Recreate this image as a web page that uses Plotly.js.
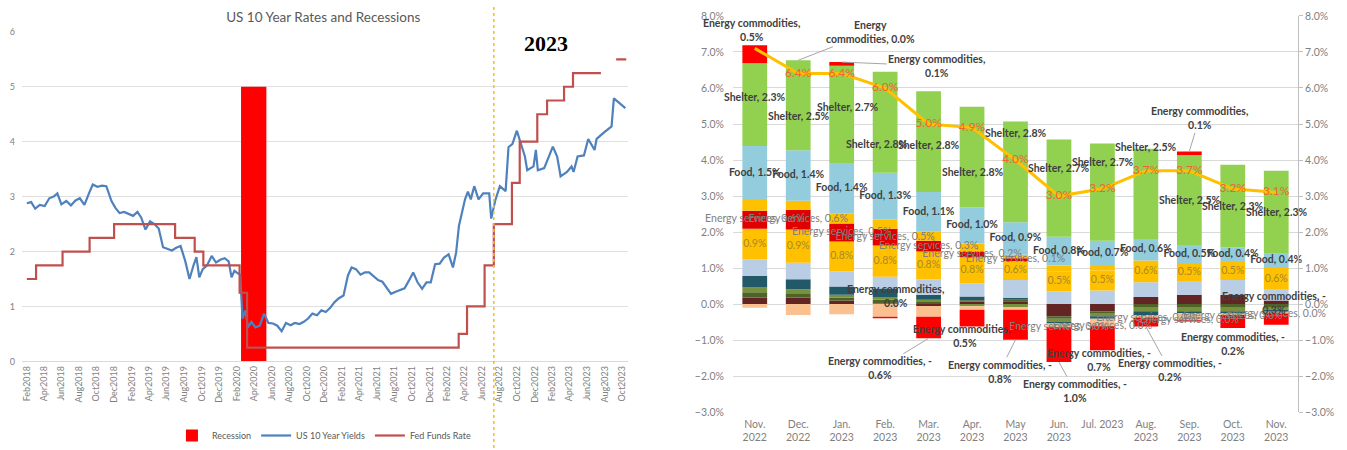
<!DOCTYPE html>
<html><head><meta charset="utf-8">
<script src="https://cdn.plot.ly/plotly-3.0.1.min.js"></script>
<style>html,body{margin:0;padding:0;background:#fff}#chart{width:1347px;height:450px}</style>
</head><body><div id="chart"></div>
<script>
// ---------- Left chart data ----------
const recessionX = ['2020-03-30'];
const recessionY = [5];
const recessionDays = 88;

const fedDates = ['2018-02-01','2018-03-05','2018-06-05','2018-09-07','2018-12-01','2019-07-01','2019-09-07','2019-10-07','2020-02-10','2020-03-07','2022-03-12','2022-04-10','2022-06-10','2022-07-12','2022-09-13','2022-10-10','2022-12-10','2023-01-13','2023-03-13','2023-04-13','2023-07-19','2023-08-15','2023-09-10','2023-10-15'];
const fedRate  = [1.5,1.75,2.0,2.25,2.5,2.25,2.0,1.75,1.25,0.25,0.5,1.0,1.75,2.5,3.25,4.0,4.5,4.75,5.0,5.25,5.25,null,5.5,5.5];

const yieldDates = ['2018-02-01','2018-02-16','2018-03-02','2018-03-18','2018-04-04','2018-04-20','2018-05-05','2018-05-18','2018-06-01','2018-06-18','2018-07-04','2018-07-20','2018-08-04','2018-08-20','2018-09-04','2018-09-18','2018-10-04','2018-10-20','2018-11-04','2018-11-22','2018-12-05','2018-12-20',
'2019-01-05','2019-01-20','2019-02-05','2019-02-20','2019-03-05','2019-03-20','2019-04-05','2019-04-20','2019-05-05','2019-05-20','2019-06-05','2019-06-20','2019-07-05','2019-07-20','2019-08-05','2019-08-20','2019-09-03','2019-09-13','2019-09-23','2019-10-05','2019-10-20','2019-11-05','2019-11-20','2019-12-05','2019-12-20',
'2020-01-03','2020-01-13','2020-01-23','2020-02-05','2020-02-12','2020-02-20','2020-03-01','2020-03-10','2020-03-22','2020-04-05','2020-04-20','2020-05-05','2020-05-20','2020-06-05','2020-06-20','2020-07-05','2020-07-20','2020-08-05','2020-08-20','2020-09-05','2020-09-20','2020-10-05','2020-10-20','2020-11-05','2020-11-20','2020-12-05','2020-12-20',
'2021-01-05','2021-01-20','2021-02-05','2021-02-20','2021-03-05','2021-03-20','2021-04-05','2021-04-20','2021-05-05','2021-05-20','2021-06-05','2021-06-20','2021-07-05','2021-07-20','2021-08-05','2021-08-20','2021-09-05','2021-09-20','2021-10-05','2021-10-20','2021-11-05','2021-11-20','2021-12-05','2021-12-20',
'2022-01-05','2022-01-20','2022-02-05','2022-02-20','2022-03-03','2022-03-13','2022-03-23','2022-04-03','2022-04-13','2022-04-23','2022-05-05','2022-05-20','2022-06-05','2022-06-26','2022-07-03','2022-07-17','2022-08-02','2022-08-22','2022-09-01','2022-09-15','2022-09-30','2022-10-14','2022-10-28','2022-11-05','2022-11-27','2022-12-05','2022-12-12',
'2023-01-03','2023-02-02','2023-02-17','2023-03-01','2023-03-23','2023-04-08','2023-04-15','2023-04-29','2023-05-21','2023-06-05','2023-06-27','2023-07-04','2023-07-26','2023-08-10','2023-08-25','2023-09-02','2023-10-12'];
const yieldValues = [2.88,2.90,2.78,2.85,2.83,2.97,3.00,3.06,2.86,2.92,2.84,2.93,2.97,2.85,3.05,3.22,3.18,3.20,3.19,2.92,2.80,2.70,
2.72,2.68,2.65,2.72,2.62,2.40,2.55,2.50,2.42,2.08,2.05,2.02,2.07,2.10,1.83,1.50,1.75,1.90,1.53,1.68,1.75,1.92,1.80,1.85,1.88,
1.82,1.53,1.65,1.60,1.58,0.78,0.93,0.62,0.72,0.62,0.65,0.87,0.70,0.69,0.65,0.55,0.70,0.66,0.70,0.68,0.72,0.78,0.87,0.84,0.93,0.90,0.97,
1.08,1.15,1.20,1.56,1.71,1.68,1.58,1.62,1.62,1.55,1.48,1.45,1.35,1.23,1.27,1.30,1.33,1.47,1.62,1.44,1.32,1.44,1.44,1.77,
1.78,1.89,1.95,1.71,1.98,2.47,2.70,2.95,3.09,2.95,3.19,2.95,3.06,3.06,2.60,2.93,3.19,3.10,3.90,3.96,4.20,3.97,3.73,3.48,3.55,3.85,3.48,
3.52,3.91,3.73,3.37,3.45,3.55,3.45,3.73,3.75,4.05,3.85,4.05,4.15,4.22,4.28,4.79,4.61];

// ---------- Right chart data ----------
const months = ['Nov.<br>2022','Dec.<br>2022','Jan.<br>2023','Feb.<br>2023','Mar.<br>2023','Apr.<br>2023','May<br>2023','Jun.<br>2023','Jul. 2023','Aug.<br>2023','Sep.<br>2023','Oct.<br>2023','Nov.<br>2023'];
const apparel        = [0.18,0.18,0.10,0.02,-0.05,0.07,0.08,-0.34,-0.20,0.20,0.26,0.25,0.10];
const medCommodities = [0.15,0.12,0.08,0.10,0.06,0.04,0.04,-0.07,-0.07,-0.10,-0.10,-0.10,-0.08];
const alcoholTobacco = [0.13,0.11,0.08,0.08,0.06,-0.06,-0.08,-0.07,-0.07,-0.10,-0.10,-0.10,-0.08];
const newVehicles    = [0.32,0.28,0.23,0.23,0.14,0.10,0.05,-0.06,-0.07,-0.10,-0.05,-0.05,-0.05];
const usedCars       = [-0.10,-0.30,-0.28,-0.35,-0.30,-0.10,-0.08,-0.10,-0.20,-0.08,-0.20,-0.05,-0.05];
const otherGoods     = [0.46,0.46,0.42,0.33,0.42,0.37,0.50,0.35,0.38,0.41,0.38,0.42,0.30];
const otherServices  = [0.85,0.92,0.83,0.87,0.78,0.72,0.53,0.55,0.55,0.60,0.50,0.50,0.60];
const energyServices = [0.50,0.55,0.50,0.46,0.30,0.15,0.07,-0.02,-0.02,-0.04,-0.03,-0.10,-0.05];
const transportSvc   = [0.30,0.25,0.28,0.26,0.25,0.23,0.10,0.17,0.13,0.00,0.00,0.00,0.00];
const food           = [1.5,1.4,1.4,1.3,1.1,1.0,0.9,0.8,0.7,0.6,0.5,0.4,0.4];
const shelter        = [2.3,2.5,2.7,2.8,2.8,2.8,2.8,2.7,2.7,2.5,2.5,2.3,2.3];
const energyCommod   = [0.5,0.0,0.1,-0.04,-0.6,-0.46,-0.83,-0.95,-0.65,-0.2,0.1,-0.26,-0.26];
const headline       = [7.1,6.4,6.4,6.0,5.0,4.9,4.0,3.0,3.2,3.7,3.7,3.2,3.1];

const headlineText = ['','6.4%','6.4%','6.0%','5.0%','4.9%','4.0%','3.0%','3.2%','3.7%','3.7%','3.2%','3.1%'];
const otherServicesText = ['0.9%','0.9%','0.8%','0.8%','0.8%','0.8%','0.6%','0.5%','0.5%','0.6%','0.5%','0.5%','0.6%'];
const energyServicesText = ['Energy services, 0.6%','Energy services, 0.6%','Energy services, 0.5%','Energy services, 0.5%','Energy services, 0.3%','Energy services, 0.2%','Energy services, 0.1%','Energy services, 0.0%','Energy services, 0.0%','Energy services, 0.0%','Energy services, 0.0%','Energy services, 0.0%','Energy services, 0.0%'];
const energyCommodText = ['Energy commodities,<br>0.5%','Energy<br>commodities, 0.0%','Energy commodities,<br>0.1%','Energy commodities,<br>0.0%','Energy commodities, -<br>0.6%','Energy commodities, -<br>0.5%','Energy commodities, -<br>0.8%','Energy commodities, -<br>1.0%','Energy commodities, -<br>0.7%','Energy commodities, -<br>0.2%','Energy commodities,<br>0.1%','Energy commodities, -<br>0.2%','Energy commodities, -<br>0.3%'];

// ---------- label placement (styling: pixel nudges of the data labels, like the manual Excel callouts) ----------
const ecCalloutPx = [[-3,-15],[72,-28],[95,4],[10,-22],[-49,30],[-7,10],[-16,32],[16,29],[-3,10],[24,44],[10,-33],[0,16],[-2,-22]];
const shelterNudgePx = [[0,-8],[0,11],[6,-7],[-9,22],[0,3],[0,15],[0,-39],[0,-20],[0,-30],[0,-47],[0,0],[0,0],[0,0]];

const series = [
  {name:'Apparel', values:apparel, color:'#632523'},
  {name:'Medical care commodities', values:medCommodities, color:'#4f6228'},
  {name:'Alcohol and tobacco', values:alcoholTobacco, color:'#76923c'},
  {name:'New vehicles', values:newVehicles, color:'#215968'},
  {name:'Used cars and trucks', values:usedCars, color:'#fac090'},
  {name:'Other goods', values:otherGoods, color:'#b9cde5'},
  {name:'Other services', values:otherServices, color:'#ffc000'},
  {name:'Energy services', values:energyServices, color:'#e00000'},
  {name:'Transportation services', values:transportSvc, color:'#fdc100'},
  {name:'Food', values:food, color:'#93cddd'},
  {name:'Shelter', values:shelter, color:'#92d050'},
  {name:'Energy commodities', values:energyCommod, color:'#ff0000'}
];

// stacking centres (relative barmode)
const posBase = months.map(()=>0), negBase = months.map(()=>0);
const centers = {};
series.forEach(s => {
  centers[s.name] = s.values.map((v,i) => {
    let c;
    if (v >= 0) { c = posBase[i] + v/2; posBase[i] += v; }
    else { c = negBase[i] + v/2; negBase[i] += v; }
    return c;
  });
});

const FONT = 'Lato, "Noto Sans", sans-serif';
const traces = [];

// left chart
traces.push({type:'bar', name:'Recession', x:recessionX, y:recessionY, width:recessionX.map(()=>recessionDays*86400000),
  marker:{color:'#ff0000', line:{width:0}}, xaxis:'x', yaxis:'y', hoverinfo:'skip'});
traces.push({type:'scatter', mode:'lines', name:'US 10 Year Yields', x:yieldDates, y:yieldValues,
  line:{color:'#4f81bd', width:2.2}, xaxis:'x', yaxis:'y'});
traces.push({type:'scatter', mode:'lines', name:'Fed Funds Rate', x:fedDates, y:fedRate, connectgaps:false,
  line:{color:'#c0504d', width:2.2, shape:'hv'}, xaxis:'x', yaxis:'y'});

// right chart bars
series.forEach(s => traces.push({type:'bar', name:s.name, x:months, y:s.values, marker:{color:s.color, line:{width:0}},
  xaxis:'x2', yaxis:'y2', showlegend:false, hoverinfo:'skip'}));

function labelTrace(y, text, font){
  return {type:'scatter', mode:'text', x:months, y:y, text:text, textposition:'middle center',
    textfont:font, xaxis:'x2', yaxis:'y2', showlegend:false, hoverinfo:'skip', cliponaxis:false};
}
const boldFont = {family:FONT, size:10.5, color:'#404040', weight:'bold'};
traces.push(labelTrace(centers['Other services'], otherServicesText, {family:FONT, size:10.5, color:'#a88a26'}));
traces.push(labelTrace(centers['Energy services'], energyServicesText, {family:FONT, size:10.5, color:'#7f7f7f'}));
traces.push(labelTrace(centers['Food'], food.map(v=>'Food, '+v.toFixed(1)+'%'), boldFont));

// headline line
traces.push({type:'scatter', mode:'lines+text', name:'CPI', x:months, y:headline, text:headlineText, textposition:'middle center',
  line:{color:'#ffc000', width:3}, textfont:{family:FONT, size:12, color:'#f0642d'}, xaxis:'x2', yaxis:'y3',
  showlegend:false, hoverinfo:'skip', cliponaxis:false});

// annotations: shelter labels and energy-commodity callouts
const annotations = [];
months.forEach((m,i) => {
  annotations.push({xref:'x2', yref:'y2', x:m, y:centers['Shelter'][i], text:'Shelter, '+shelter[i].toFixed(1)+'%',
    showarrow:false, xshift:shelterNudgePx[i][0], yshift:-shelterNudgePx[i][1], font:{family:FONT, size:10.5, color:'#404040', weight:'bold'}});
});
months.forEach((m,i) => {
  const off = ecCalloutPx[i];
  const leader = Math.hypot(off[0], off[1]) >= 25;
  annotations.push({xref:'x2', yref:'y2', x:m, y:(energyCommod[i] >= 0 ? posBase[i] : negBase[i]), text:energyCommodText[i],
    showarrow:true, arrowhead:0, arrowwidth:1, arrowcolor: leader ? '#a6a6a6' : 'rgba(0,0,0,0)', ax:off[0], ay:off[1],
    standoff:0, align:'center', font:{family:FONT, size:10.5, color:'#404040', weight:'bold'}});
});
annotations.push({text:'<b>2023</b>', xref:'paper', yref:'paper', x:0.405, y:0.902, xanchor:'center', yanchor:'middle',
  showarrow:false, font:{family:'"Liberation Serif", "DejaVu Serif", serif', size:22, color:'#000'}});

const grey = '#7f7f7f';
const layout = {
  width:1347, height:450, autosize:false,
  margin:{l:0, r:0, t:0, b:0},
  paper_bgcolor:'#fff', plot_bgcolor:'rgba(0,0,0,0)',
  font:{family:FONT, color:grey},
  barmode:'relative', bargap:0.43,
  title:{text:'US 10 Year Rates and Recessions', x:0.24, xanchor:'center', y:0.962, yanchor:'middle',
    font:{family:FONT, size:13.5, color:'#595959'}},
  showlegend:true,
  legend:{orientation:'h', x:0.2405, xanchor:'center', y:0.027, yanchor:'middle', font:{size:9, color:'#595959'},
    bgcolor:'rgba(0,0,0,0)', itemwidth:30},
  xaxis:{domain:[0.0163,0.4662], anchor:'y', type:'date', range:['2018-01-15','2023-10-21'],
    tick0:'2018-02-01', dtick:'M2', tickformat:'%b%Y', tickangle:-90, tickfont:{size:9, color:grey},
    showgrid:false, showline:true, linecolor:'#d9d9d9', ticks:'', zeroline:false},
  yaxis:{domain:[0.1933,0.9289], anchor:'x', range:[0,6], dtick:1, gridcolor:'#e0e0e0', zeroline:false,
    tickfont:{size:9, color:grey}, ticks:'', ticklabelstandoff:6},
  xaxis2:{domain:[0.5442,0.9636], anchor:'y2', type:'category', range:[-0.5,12.5], autorange:false,
    tickfont:{size:10.5, color:grey}, showgrid:false, showline:false, ticks:'', ticklabelstandoff:4},
  yaxis2:{domain:[0.08,0.9644], anchor:'x2', range:[-3,8], autorange:false, dtick:1, tickformat:'.1f', ticksuffix:'%',
    gridcolor:'#d9d9d9', zeroline:false, tickfont:{size:10.5, color:grey}, ticks:'', ticklabelstandoff:8},
  yaxis3:{overlaying:'y2', side:'right', anchor:'x2', range:[-3,8], autorange:false, dtick:1, tickformat:'.1f', ticksuffix:'%',
    showgrid:false, zeroline:false, showline:true, linecolor:'#bfbfbf', ticks:'outside', ticklen:4, tickcolor:'#bfbfbf',
    tickfont:{size:10.5, color:grey}},
  shapes:[{type:'line', xref:'x', yref:'paper', x0:'2022-07-12', x1:'2022-07-12', y0:0, y1:0.99,
    line:{color:'#ffc000', width:1.5, dash:'dot'}}],
  annotations: annotations
};

Plotly.newPlot('chart', traces, layout, {staticPlot:true, displayModeBar:false});
</script></body></html>
